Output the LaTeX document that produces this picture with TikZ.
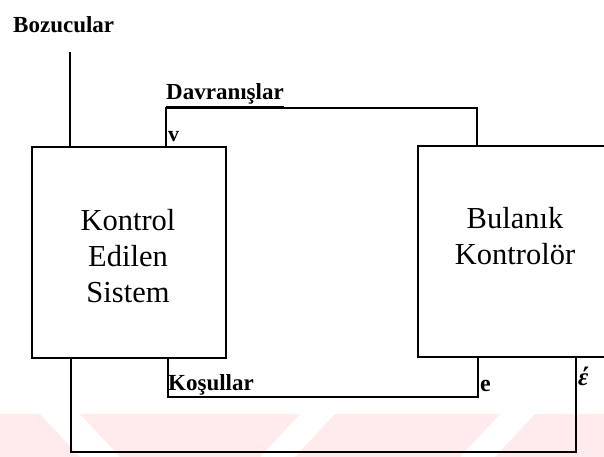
\documentclass[tikz,border=0pt]{standalone}
\usepackage{fontspec}
\setmainfont{Liberation Serif}
\begin{document}
\begin{tikzpicture}[x=1pt,y=-1pt,
  blk/.style={draw,line width=2.5pt,inner sep=0pt},
  wire/.style={line width=2.5pt},
  boxtext/.style={font=\fontsize{30.5}{36}\selectfont,align=center,inner sep=0pt},
  lbl/.style={font=\bfseries\fontsize{23}{26}\selectfont,inner sep=0pt,anchor=base west},
  wm/.style={fill=red!8!white,draw=none}]
\clip (0,0) rectangle (604,457);
\fill[white] (0,0) rectangle (604,457);
% faint watermark bands
\fill[wm] (0,414) -- (40,414) -- (80,457) -- (0,457) -- cycle;
\fill[wm] (80,414) -- (300,414) -- (260,457) -- (120,457) -- cycle;
\fill[wm] (335,414) -- (500,414) -- (460,457) -- (295,457) -- cycle;
\fill[wm] (535,414) -- (604,414) -- (604,457) -- (495,457) -- cycle;
% blocks
\node[blk,minimum width=194pt,minimum height=211pt] (sys) at (129,252.5) {};
\node[boxtext] (systxt) at (128,256) {Kontrol\\Edilen\\Sistem};
\node[blk,minimum width=262pt,minimum height=211pt] (fc) at (549,251.5) {};
\node[boxtext] (fctxt) at (515,236) {Bulanık\\Kontrolör};
% coordinates
\coordinate (bz) at (70,52);
\coordinate (dvL) at (166,108);
\coordinate (dvR) at (477,108);
\coordinate (ksL) at (168,397);
\coordinate (ksR) at (478,397);
\coordinate (otL) at (71,452);
\coordinate (otR) at (576,452);
% connectors
\draw[wire] (bz) -- (bz |- sys.north);
\draw[wire] (dvL |- sys.north) -- (dvL) -- (dvR) -- (dvR |- fc.north);
\draw[wire] (ksL |- sys.south) -- (ksL) -- (ksR) -- (ksR |- fc.south);
\draw[wire] (otL |- sys.south) -- (otL) -- (otR) -- (otR |- fc.south);
% labels
\node[lbl] (lbz) at (13,33) {Bozucular};
\node[lbl] (ldv) at (166,100) {\underline{Davranışlar}};
\node[lbl] (lks) at (168,390) {\underline{Koşullar}};
\node[lbl,font=\bfseries\fontsize{22}{24}\selectfont] (lv) at (168,142) {v};
\node[lbl,font=\bfseries\fontsize{24}{26}\selectfont] (le) at (480,391) {e};
\node[lbl,font=\bfseries\itshape\fontsize{25}{27}\selectfont] (led) at (578,385) {έ};
\end{tikzpicture}
\end{document}
